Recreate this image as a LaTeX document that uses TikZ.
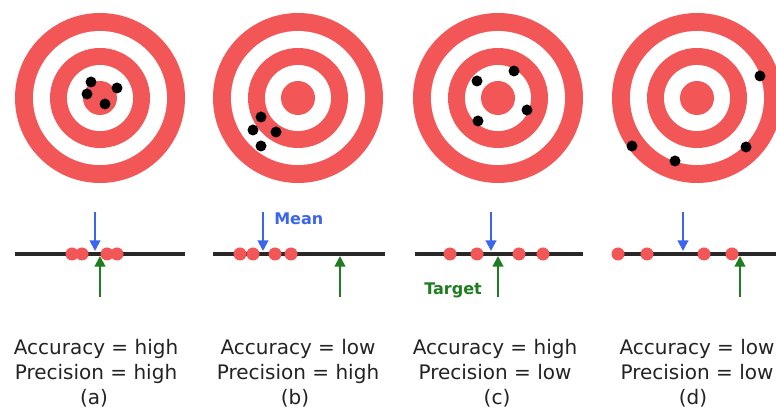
\documentclass[tikz,border=0pt]{standalone}
\usepackage{fontspec}
\setmainfont{DejaVu Sans}
\usetikzlibrary{arrows.meta}
\definecolor{tred}{RGB}{243,86,86}
\definecolor{mblue}{RGB}{58,102,238}
\definecolor{tgreen}{RGB}{30,125,30}
\definecolor{linegray}{RGB}{40,40,40}
\definecolor{txtgray}{RGB}{35,35,35}
\tikzset{
  numline/.style={draw=linegray,line width=2.4pt},
  shotdot/.style={fill=tred},
  hitdot/.style={fill=black},
  meanarrow/.style={draw=mblue,line width=1.5pt,-{Triangle[length=8pt,width=8pt]}},
  targetarrow/.style={draw=tgreen,line width=1.5pt,-{Triangle[length=8pt,width=8pt]}},
  captext/.style={text=txtgray,font=\fontsize{15}{18}\selectfont,inner sep=0pt,anchor=base},
  labtext/.style={font=\fontsize{12}{14}\selectfont\bfseries,inner sep=0pt,anchor=base west}
}
\begin{document}
\begin{tikzpicture}[x=0.75pt,y=-0.75pt]
\useasboundingbox (0,0) rectangle (776,416);
\clip (0,0) rectangle (776,416);
\fill[white] (0,0) rectangle (776,416);
% targets
\foreach \cx in {100,298,498,697}{
  \fill[tred] (\cx,98) circle[radius=85];
  \fill[white] (\cx,98) circle[radius=67];
  \fill[tred] (\cx,98) circle[radius=50];
  \fill[white] (\cx,98) circle[radius=33];
  \fill[tred] (\cx,98) circle[radius=17];
}
% hits
\foreach \hx/\hy in {91/82, 87/94, 117/88, 105/104,
                     261/117, 253/130, 276/132, 261/146,
                     477/81, 514/71, 527/110, 478/121,
                     760/76, 632/146, 675/161, 746/147}{
  \fill[hitdot] (\hx,\hy) circle[radius=5.5];
}
% number lines
\draw[numline] (15,254) -- (185,254);
\draw[numline] (213,254) -- (385,254);
\draw[numline] (415,254) -- (583,254);
\draw[numline] (613,254) -- (776,254);
% measurement dots
\foreach \dx in {72,82,107,117, 240,253,275,291, 450,477,519,543, 618,647,704,732}{
  \fill[shotdot] (\dx,254) circle[radius=6.5];
}
% mean arrows
\foreach \id/\mx in {a/95,b/263,c/491,d/683}{
  \coordinate (m\id1) at (\mx,212);
  \coordinate (m\id2) at (\mx,251);
  \draw[meanarrow] (m\id1) -- (m\id2);
}
% target arrows
\foreach \id/\tx in {a/100,b/340,c/498,d/740}{
  \coordinate (t\id1) at (\tx,297);
  \coordinate (t\id2) at (\tx,256);
  \draw[targetarrow] (t\id1) -- (t\id2);
}
\node[labtext,text=mblue] (meanlab) at (274,225) {Mean};
\node[labtext,text=tgreen] (targetlab) at (424,295) {Target};
% captions
\node[captext] (a1) at (96,355) {Accuracy = high};
\node[captext] (a2) at (96,380) {Precision = high};
\node[captext] (a3) at (94,404.5) {(a)};
\node[captext] (b1) at (298,355) {Accuracy = low};
\node[captext] (b2) at (298,380) {Precision = high};
\node[captext] (b3) at (295,404.5) {(b)};
\node[captext] (c1) at (495,355) {Accuracy = high};
\node[captext] (c2) at (495,380) {Precision = low};
\node[captext] (c3) at (497,404.5) {(c)};
\node[captext] (d1) at (697,355) {Accuracy = low};
\node[captext] (d2) at (697,380) {Precision = low};
\node[captext] (d3) at (693,404.5) {(d)};
\end{tikzpicture}
\end{document}
